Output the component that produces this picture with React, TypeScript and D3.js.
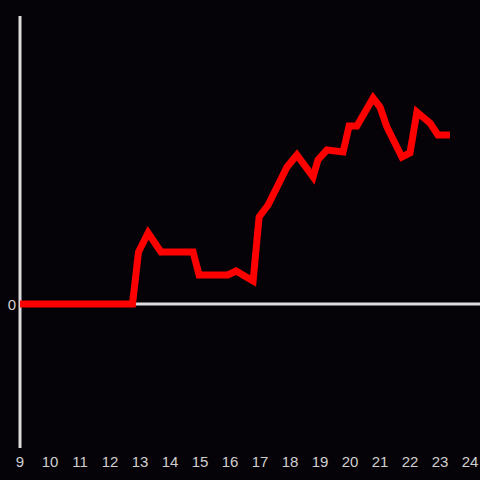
import React from "react";
import * as d3 from "d3";

const times = [9.0, 12.75, 12.95, 13.27, 13.7, 14.77, 14.97, 15.93, 16.2, 16.77, 16.97, 17.27, 17.9, 18.23, 18.77, 18.93, 19.23, 19.77, 19.97, 20.23, 20.77, 21.0, 21.23, 21.73, 22.0, 22.23, 22.67, 22.93, 23.33];
const values = [0, 0, 5.2, 7.1, 5.2, 5.2, 2.9, 2.9, 3.3, 2.3, 8.7, 9.9, 13.7, 14.9, 12.7, 14.4, 15.4, 15.2, 17.8, 17.8, 20.6, 19.7, 17.7, 14.7, 15.1, 19.2, 18.1, 16.9, 16.9];
const xTicks = [9, 10, 11, 12, 13, 14, 15, 16, 17, 18, 19, 20, 21, 22, 23, 24];
const yTicks = [0];

export default function App() {
  const W = 480, H = 480;
  const x = d3.scaleLinear().domain([9, 24]).range([20, 470]);
  const y = d3.scaleLinear().domain([-14.4, 28.8]).range([448, 16]);
  const data = times.map((t, i) => [t, values[i]] as [number, number]);
  const line = d3.line<[number, number]>().x(d => x(d[0])).y(d => y(d[1]));
  const axisColor = "#dcdcdc";
  const textColor = "#d0d0d0";
  return (
    <svg width={W} height={H} style={{ position: "absolute", left: 0, top: 0, background: "#050307" }}>
      <rect x={0} y={0} width={W} height={H} fill="#050307" />
      <line x1={x(9)} x2={480} y1={y(0)} y2={y(0)} stroke={axisColor} strokeWidth={3} />
      <line x1={x(9)} x2={x(9)} y1={16} y2={448} stroke={axisColor} strokeWidth={3} />
      <path d={line(data) || ""} fill="none" stroke="#ff0000" strokeWidth={7} strokeLinejoin="miter" strokeLinecap="butt" />
      {xTicks.map(t => (
        <text key={t} x={x(t)} y={461} textAnchor="middle" dominantBaseline="central" fill={textColor} fontFamily="Liberation Sans, Arial, sans-serif" fontSize={15}>{t}</text>
      ))}
      {yTicks.map(t => (
        <text key={t} x={16} y={y(t)} textAnchor="end" dominantBaseline="central" fill={textColor} fontFamily="Liberation Sans, Arial, sans-serif" fontSize={15}>{t}</text>
      ))}
    </svg>
  );
}
